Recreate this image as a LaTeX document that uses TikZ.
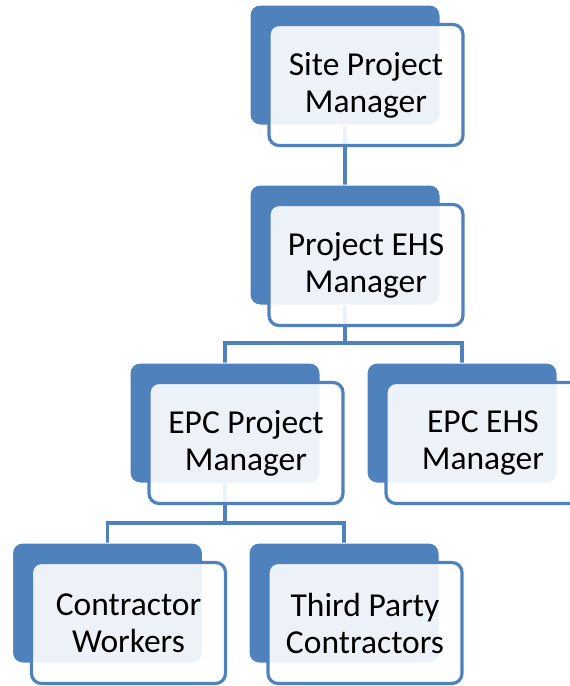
\documentclass[tikz,border=0pt]{standalone}
\usepackage{fontspec}
\setmainfont{Carlito}
\usetikzlibrary{calc}
\definecolor{accent}{HTML}{4F81BD}
\begin{document}
\begin{tikzpicture}[x=1pt,y=1pt,
  backbox/.style={draw=white, line width=1pt, fill=accent, rounded corners=10pt,
    minimum width=190pt, minimum height=120pt, inner sep=0pt},
  frontbox/.style={draw=accent, line width=3.2pt, fill=white, fill opacity=0.9, text opacity=1,
    rounded corners=10pt, minimum width=194pt, minimum height=121pt, inner sep=0pt,
    align=center, font=\fontsize{33.5}{37}\selectfont},
  link/.style={draw=accent, line width=3.2pt}]
\useasboundingbox (0,0) rectangle (570,-686);
\clip (0,0) rectangle (570,-686);
% back boxes positions (centers)
\coordinate (p1) at (345,-65);
\coordinate (p2) at (345,-245);
\coordinate (p3) at (225,-423);
\coordinate (p4) at (462,-423);
\coordinate (p5) at (107.5,-603);
\coordinate (p6) at (344,-603);
% invisible anchors for connectors first
\path (p1) node[backbox, draw=none, fill=none] (spmB) {};
\path (p2) node[backbox, draw=none, fill=none] (ehsB) {};
\path (p3) node[backbox, draw=none, fill=none] (epcpmB) {};
\path (p4) node[backbox, draw=none, fill=none] (epcehsB) {};
\path (p5) node[backbox, draw=none, fill=none] (cwB) {};
\path (p6) node[backbox, draw=none, fill=none] (tpcB) {};
\coordinate (j1) at (345,-343);
\coordinate (j2) at (226,-523);
% connectors
\draw[link] (spmB.south) -- (ehsB.north);
\draw[link] (ehsB.south) -- (ehsB.south |- j1);
\draw[link] (epcpmB.north) |- (epcehsB.north |- j1) -- (epcehsB.north);
\draw[link] (epcpmB.south) -- (epcpmB.south |- j2);
\draw[link] (cwB.north) |- (tpcB.north |- j2) -- (tpcB.north);
% boxes
\node[backbox] (spmBk) at (p1) {};
\node[frontbox] (spm) at ($(p1)+(21,-20)$) {Site Project\\Manager};
\node[backbox] (ehsBk) at (p2) {};
\node[frontbox] (ehs) at ($(p2)+(21,-20)$) {Project EHS\\Manager};
\node[backbox] (epcpmBk) at (p3) {};
\node[frontbox] (epcpm) at ($(p3)+(21,-20)$) {EPC Project\\Manager};
\node[backbox] (epcehsBk) at (p4) {};
\node[frontbox] (epcehs) at ($(p4)+(21,-20)$) {EPC EHS\\Manager};
\node[backbox] (cwBk) at (p5) {};
\node[frontbox] (cw) at ($(p5)+(21,-20)$) {Contractor\\Workers};
\node[backbox] (tpcBk) at (p6) {};
\node[frontbox] (tpc) at ($(p6)+(21,-20)$) {Third Party\\Contractors};
\end{tikzpicture}
\end{document}
